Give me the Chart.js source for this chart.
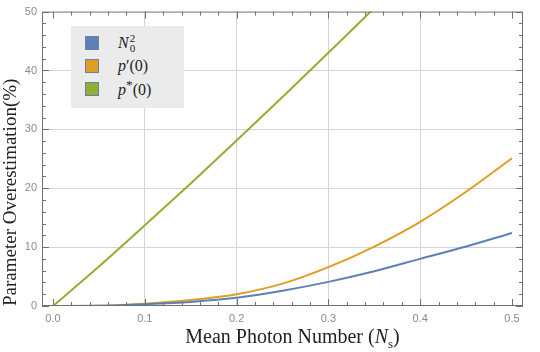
<!DOCTYPE html>
<html>
<head>
  <title>Parameter Overestimation</title>
  <script src="https://cdn.jsdelivr.net/npm/chart.js"></script>
  <style>
    body { margin: 0; background: #fff; }
    .wrap { position: relative; width: 540px; height: 352px; }
    .legend {
      position: absolute; left: 71px; top: 26px; width: 113px; height: 82px;
      background: #ebebeb; box-sizing: border-box; padding: 5px 0 0 14px;
      font-family: "Liberation Serif", serif; font-size: 16px; color: #222;
    }
    .item { display: flex; align-items: center; height: 23px; }
    .sw { width: 12px; height: 12px; border: 1px solid #6d7fa6; margin-right: 19px; }
    .lab { font-style: italic; }
    .up { font-style: normal; }
    .stack { display: inline-flex; flex-direction: column; font-size: 11px; line-height: 10px; vertical-align: 6px; font-style: normal; margin-left: 1px; }
    .xtitle {
      position: absolute; top: 325px; left: 52px; width: 481px; text-align: center;
      font-family: "Liberation Serif", serif; font-size: 20px; color: #222;
    }
    sub { font-size: 13px; }
  </style>
</head>
<body>
  <div class="wrap">
    <canvas id="c" width="540" height="352"></canvas>
    <div class="legend" id="legend"></div>
    <div class="xtitle">Mean Photon Number (<i>N</i><sub>s</sub>)</div>
  </div>

  <script>
    const xs = [0, 0.05, 0.1, 0.15, 0.2, 0.25, 0.3, 0.35, 0.4, 0.45, 0.5];
    const n0sq = [0, 0.03, 0.3, 0.7, 1.4, 2.6, 4.1, 5.9, 8.0, 10.1, 12.4];
    const pPrime = [0, 0.05, 0.4, 1.0, 2.0, 3.8, 6.6, 10.1, 14.3, 19.4, 25.1];
    const pStar = [0, 6.7, 13.7, 20.8, 28.1, 35.5, 43.0, 50.6];
    const xTicks = [0, 0.1, 0.2, 0.3, 0.4, 0.5];
    const yTicks = [0, 10, 20, 30, 40, 50];

    const seriesNames = ['N0^2', "p'(0)", 'p*(0)'];
    const seriesColors = ['#5e81b5', '#e19c24', '#8fb032'];
    const legendHtml = [
      '<span class="lab">N</span><span class="stack"><span>2</span><span>0</span></span>',
      '<span class="lab">p</span>\u2032<span class="up">(0)</span>',
      '<span class="lab">p</span><sup>*</sup><span class="up">(0)</span>'
    ];

    const pts = (vals) => vals.map((v, i) => ({ x: xs[i], y: v }));

    // inward frame ticks like the original plot
    const frameTicks = {
      id: 'frameTicks',
      afterDatasetsDraw(chart) {
        const { ctx, chartArea: a, scales: { x, y } } = chart;
        ctx.save();
        ctx.strokeStyle = '#707070';
        ctx.lineWidth = 1;
        ctx.beginPath();
        for (let i = 0; i <= 25; i++) {
          const px = Math.round(x.getPixelForValue(i * 0.02)) + 0.5;
          const len = i % 5 === 0 ? 7 : 4;
          ctx.moveTo(px, a.bottom); ctx.lineTo(px, a.bottom - len);
          ctx.moveTo(px, a.top); ctx.lineTo(px, a.top + len);
        }
        for (let i = 0; i <= 25; i++) {
          const py = Math.round(y.getPixelForValue(i * 2)) + 0.5;
          const len = i % 5 === 0 ? 7 : 4;
          ctx.moveTo(a.left, py); ctx.lineTo(a.left + len, py);
          ctx.moveTo(a.right, py); ctx.lineTo(a.right - len, py);
        }
        ctx.stroke();
        ctx.strokeRect(a.left + 0.5, a.top + 0.5, a.width - 1, a.height - 1);
        ctx.restore();
      }
    };

    const chart = new Chart(document.getElementById('c'), {
      type: 'line',
      data: {
        datasets: [
          { label: seriesNames[0], data: pts(n0sq), borderColor: seriesColors[0] },
          { label: seriesNames[1], data: pts(pPrime), borderColor: seriesColors[1] },
          { label: seriesNames[2], data: pts(pStar), borderColor: seriesColors[2] }
        ]
      },
      options: {
        responsive: false,
        animation: false,
        layout: { padding: { top: 10, right: 17, left: 0, bottom: 0 } },
        elements: {
          point: { radius: 0 },
          line: { borderWidth: 2, cubicInterpolationMode: 'monotone', fill: false }
        },
        plugins: { legend: { display: false }, tooltip: { enabled: false } },
        scales: {
          x: {
            type: 'linear', min: -0.012, max: 0.512,
            afterFit: s => { s.height = 46; },
            afterBuildTicks: s => { s.ticks = xTicks.map(v => ({ value: v })); },
            border: { display: false },
            grid: {
              drawTicks: false,
              color: c => (c.tick && c.tick.value > 0.05 && c.tick.value < 0.45) ? '#d4d4d4' : 'rgba(0,0,0,0)'
            },
            ticks: {
              padding: 6, color: '#8a8a8a',
              font: { family: 'Liberation Sans', size: 11 },
              callback: v => v.toFixed(1)
            }
          },
          y: {
            min: 0, max: 50,
            afterFit: s => { s.width = 42; },
            afterBuildTicks: s => { s.ticks = yTicks.map(v => ({ value: v })); },
            border: { display: false },
            grid: {
              drawTicks: false,
              color: c => (c.tick && c.tick.value > 0 && c.tick.value < 50) ? '#d4d4d4' : 'rgba(0,0,0,0)'
            },
            ticks: {
              padding: 5, color: '#8a8a8a',
              font: { family: 'Liberation Sans', size: 11 }
            },
            title: {
              display: true, text: 'Parameter Overestimation(%)', color: '#222', align: 'start',
              font: { family: 'Liberation Serif', size: 19 }, padding: { top: 0, bottom: 0 }
            }
          }
        }
      },
      plugins: [frameTicks]
    });

    document.getElementById('legend').innerHTML = seriesColors.map((c, i) =>
      `<div class="item"><div class="sw" style="background:${c}"></div><div>${legendHtml[i]}</div></div>`
    ).join('');
  </script>
</body>
</html>
